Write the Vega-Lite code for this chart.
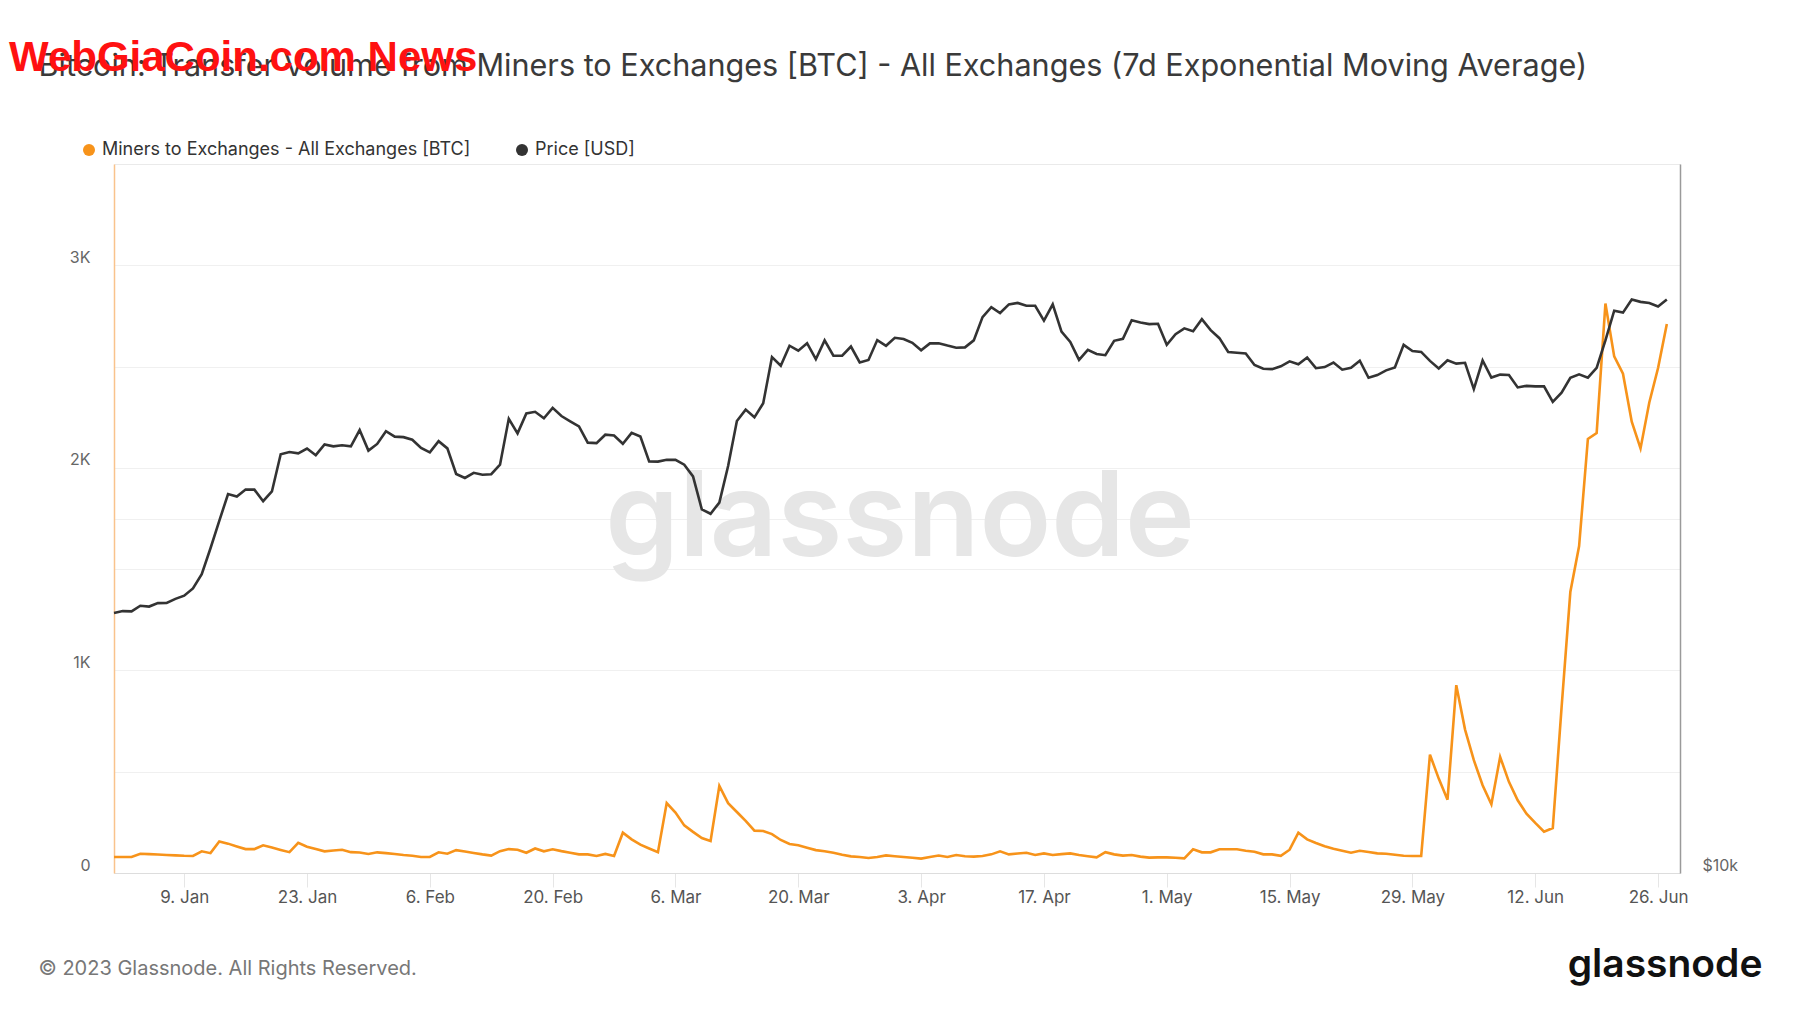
{
  "$schema": "https://vega.github.io/schema/vega-lite/v6.json",
  "width": 1566,
  "height": 709,
  "autosize": {"type": "none"},
  "padding": {"left": 114, "top": 164, "right": 120, "bottom": 140},
  "background": "white",
  "title": {
    "text": "WebGiaCoin.com News",
    "anchor": "start",
    "frame": "group",
    "dx": -105,
    "dy": 72,
    "offset": 10,
    "font": "Liberation Sans",
    "fontSize": 42,
    "fontWeight": "bold",
    "color": "#ff1111",
    "baseline": "alphabetic"
  },
  "config": {
    "font": "Inter",
    "view": {"stroke": "#eaeaea", "strokeWidth": 1}
  },
  "data": {
    "values": [
      {"date": "2023-01-01", "btc": 79, "price": 16625},
      {"date": "2023-01-02", "btc": 79, "price": 16688},
      {"date": "2023-01-03", "btc": 79, "price": 16680},
      {"date": "2023-01-04", "btc": 95, "price": 16863},
      {"date": "2023-01-05", "btc": 93, "price": 16836},
      {"date": "2023-01-06", "btc": 91, "price": 16951},
      {"date": "2023-01-07", "btc": 89, "price": 16955},
      {"date": "2023-01-08", "btc": 87, "price": 17091},
      {"date": "2023-01-09", "btc": 85, "price": 17197},
      {"date": "2023-01-10", "btc": 84, "price": 17446},
      {"date": "2023-01-11", "btc": 107, "price": 17934},
      {"date": "2023-01-12", "btc": 98, "price": 18869},
      {"date": "2023-01-13", "btc": 156, "price": 19909},
      {"date": "2023-01-14", "btc": 145, "price": 20977},
      {"date": "2023-01-15", "btc": 131, "price": 20880},
      {"date": "2023-01-16", "btc": 118, "price": 21169},
      {"date": "2023-01-17", "btc": 118, "price": 21161},
      {"date": "2023-01-18", "btc": 137, "price": 20688},
      {"date": "2023-01-19", "btc": 126, "price": 21086},
      {"date": "2023-01-20", "btc": 114, "price": 22676},
      {"date": "2023-01-21", "btc": 103, "price": 22777},
      {"date": "2023-01-22", "btc": 149, "price": 22720},
      {"date": "2023-01-23", "btc": 130, "price": 22934},
      {"date": "2023-01-24", "btc": 118, "price": 22636},
      {"date": "2023-01-25", "btc": 107, "price": 23117},
      {"date": "2023-01-26", "btc": 111, "price": 23032},
      {"date": "2023-01-27", "btc": 115, "price": 23078},
      {"date": "2023-01-28", "btc": 103, "price": 23031},
      {"date": "2023-01-29", "btc": 101, "price": 23774},
      {"date": "2023-01-30", "btc": 94, "price": 22840},
      {"date": "2023-01-31", "btc": 102, "price": 23139},
      {"date": "2023-02-01", "btc": 98, "price": 23723},
      {"date": "2023-02-02", "btc": 94, "price": 23471},
      {"date": "2023-02-03", "btc": 89, "price": 23449},
      {"date": "2023-02-04", "btc": 85, "price": 23331},
      {"date": "2023-02-05", "btc": 79, "price": 22955},
      {"date": "2023-02-06", "btc": 79, "price": 22760},
      {"date": "2023-02-07", "btc": 102, "price": 23264},
      {"date": "2023-02-08", "btc": 95, "price": 22939},
      {"date": "2023-02-09", "btc": 113, "price": 21819},
      {"date": "2023-02-10", "btc": 106, "price": 21651},
      {"date": "2023-02-11", "btc": 99, "price": 21870},
      {"date": "2023-02-12", "btc": 92, "price": 21788},
      {"date": "2023-02-13", "btc": 86, "price": 21808},
      {"date": "2023-02-14", "btc": 108, "price": 22220},
      {"date": "2023-02-15", "btc": 118, "price": 24307},
      {"date": "2023-02-16", "btc": 115, "price": 23623},
      {"date": "2023-02-17", "btc": 100, "price": 24565},
      {"date": "2023-02-18", "btc": 121, "price": 24641},
      {"date": "2023-02-19", "btc": 107, "price": 24327},
      {"date": "2023-02-20", "btc": 117, "price": 24829},
      {"date": "2023-02-21", "btc": 108, "price": 24436},
      {"date": "2023-02-22", "btc": 100, "price": 24188},
      {"date": "2023-02-23", "btc": 92, "price": 23947},
      {"date": "2023-02-24", "btc": 92, "price": 23198},
      {"date": "2023-02-25", "btc": 84, "price": 23175},
      {"date": "2023-02-26", "btc": 94, "price": 23561},
      {"date": "2023-02-27", "btc": 84, "price": 23522},
      {"date": "2023-02-28", "btc": 199, "price": 23147},
      {"date": "2023-03-01", "btc": 166, "price": 23646},
      {"date": "2023-03-02", "btc": 140, "price": 23475},
      {"date": "2023-03-03", "btc": 121, "price": 22362},
      {"date": "2023-03-04", "btc": 103, "price": 22353},
      {"date": "2023-03-05", "btc": 345, "price": 22435},
      {"date": "2023-03-06", "btc": 298, "price": 22429},
      {"date": "2023-03-07", "btc": 235, "price": 22219},
      {"date": "2023-03-08", "btc": 203, "price": 21718},
      {"date": "2023-03-09", "btc": 173, "price": 20363},
      {"date": "2023-03-10", "btc": 158, "price": 20187},
      {"date": "2023-03-11", "btc": 430, "price": 20633},
      {"date": "2023-03-12", "btc": 345, "price": 22163},
      {"date": "2023-03-13", "btc": 301, "price": 24197},
      {"date": "2023-03-14", "btc": 257, "price": 24746},
      {"date": "2023-03-15", "btc": 209, "price": 24375},
      {"date": "2023-03-16", "btc": 207, "price": 25052},
      {"date": "2023-03-17", "btc": 192, "price": 27423},
      {"date": "2023-03-18", "btc": 163, "price": 26965},
      {"date": "2023-03-19", "btc": 143, "price": 28038},
      {"date": "2023-03-20", "btc": 137, "price": 27768},
      {"date": "2023-03-21", "btc": 125, "price": 28175},
      {"date": "2023-03-22", "btc": 113, "price": 27307},
      {"date": "2023-03-23", "btc": 107, "price": 28333},
      {"date": "2023-03-24", "btc": 100, "price": 27493},
      {"date": "2023-03-25", "btc": 90, "price": 27494},
      {"date": "2023-03-26", "btc": 82, "price": 27994},
      {"date": "2023-03-27", "btc": 79, "price": 27139},
      {"date": "2023-03-28", "btc": 74, "price": 27268},
      {"date": "2023-03-29", "btc": 79, "price": 28348},
      {"date": "2023-03-30", "btc": 87, "price": 28033},
      {"date": "2023-03-31", "btc": 83, "price": 28478},
      {"date": "2023-04-01", "btc": 79, "price": 28411},
      {"date": "2023-04-02", "btc": 75, "price": 28199},
      {"date": "2023-04-03", "btc": 71, "price": 27790},
      {"date": "2023-04-04", "btc": 79, "price": 28168},
      {"date": "2023-04-05", "btc": 86, "price": 28177},
      {"date": "2023-04-06", "btc": 79, "price": 28044},
      {"date": "2023-04-07", "btc": 89, "price": 27925},
      {"date": "2023-04-08", "btc": 83, "price": 27948},
      {"date": "2023-04-09", "btc": 81, "price": 28333},
      {"date": "2023-04-10", "btc": 84, "price": 29653},
      {"date": "2023-04-11", "btc": 92, "price": 30235},
      {"date": "2023-04-12", "btc": 107, "price": 29892},
      {"date": "2023-04-13", "btc": 92, "price": 30400},
      {"date": "2023-04-14", "btc": 96, "price": 30485},
      {"date": "2023-04-15", "btc": 100, "price": 30318},
      {"date": "2023-04-16", "btc": 89, "price": 30315},
      {"date": "2023-04-17", "btc": 97, "price": 29446},
      {"date": "2023-04-18", "btc": 89, "price": 30397},
      {"date": "2023-04-19", "btc": 93, "price": 28823},
      {"date": "2023-04-20", "btc": 97, "price": 28245},
      {"date": "2023-04-21", "btc": 89, "price": 27276},
      {"date": "2023-04-22", "btc": 83, "price": 27817},
      {"date": "2023-04-23", "btc": 77, "price": 27591},
      {"date": "2023-04-24", "btc": 103, "price": 27525},
      {"date": "2023-04-25", "btc": 92, "price": 28307},
      {"date": "2023-04-26", "btc": 86, "price": 28422},
      {"date": "2023-04-27", "btc": 89, "price": 29473},
      {"date": "2023-04-28", "btc": 81, "price": 29340},
      {"date": "2023-04-29", "btc": 76, "price": 29248},
      {"date": "2023-04-30", "btc": 77, "price": 29268},
      {"date": "2023-05-01", "btc": 77, "price": 28091},
      {"date": "2023-05-02", "btc": 75, "price": 28680},
      {"date": "2023-05-03", "btc": 72, "price": 29006},
      {"date": "2023-05-04", "btc": 117, "price": 28847},
      {"date": "2023-05-05", "btc": 102, "price": 29534},
      {"date": "2023-05-06", "btc": 102, "price": 28904},
      {"date": "2023-05-07", "btc": 117, "price": 28455},
      {"date": "2023-05-08", "btc": 117, "price": 27695},
      {"date": "2023-05-09", "btc": 117, "price": 27654},
      {"date": "2023-05-10", "btc": 110, "price": 27621},
      {"date": "2023-05-11", "btc": 105, "price": 27000},
      {"date": "2023-05-12", "btc": 92, "price": 26804},
      {"date": "2023-05-13", "btc": 92, "price": 26784},
      {"date": "2023-05-14", "btc": 85, "price": 26931},
      {"date": "2023-05-15", "btc": 115, "price": 27192},
      {"date": "2023-05-16", "btc": 199, "price": 27036},
      {"date": "2023-05-17", "btc": 166, "price": 27398},
      {"date": "2023-05-18", "btc": 148, "price": 26833},
      {"date": "2023-05-19", "btc": 132, "price": 26890},
      {"date": "2023-05-20", "btc": 120, "price": 27129},
      {"date": "2023-05-21", "btc": 110, "price": 26753},
      {"date": "2023-05-22", "btc": 100, "price": 26851},
      {"date": "2023-05-23", "btc": 110, "price": 27225},
      {"date": "2023-05-24", "btc": 104, "price": 26334},
      {"date": "2023-05-25", "btc": 97, "price": 26476},
      {"date": "2023-05-26", "btc": 95, "price": 26719},
      {"date": "2023-05-27", "btc": 90, "price": 26868},
      {"date": "2023-05-28", "btc": 85, "price": 28085},
      {"date": "2023-05-29", "btc": 84, "price": 27745},
      {"date": "2023-05-30", "btc": 84, "price": 27702},
      {"date": "2023-05-31", "btc": 584, "price": 27219},
      {"date": "2023-06-01", "btc": 466, "price": 26819},
      {"date": "2023-06-02", "btc": 362, "price": 27249},
      {"date": "2023-06-03", "btc": 927, "price": 27075},
      {"date": "2023-06-04", "btc": 708, "price": 27119},
      {"date": "2023-06-05", "btc": 557, "price": 25760},
      {"date": "2023-06-06", "btc": 433, "price": 27238},
      {"date": "2023-06-07", "btc": 339, "price": 26346},
      {"date": "2023-06-08", "btc": 573, "price": 26498},
      {"date": "2023-06-09", "btc": 450, "price": 26478},
      {"date": "2023-06-10", "btc": 359, "price": 25842},
      {"date": "2023-06-11", "btc": 293, "price": 25922},
      {"date": "2023-06-12", "btc": 247, "price": 25896},
      {"date": "2023-06-13", "btc": 204, "price": 25902},
      {"date": "2023-06-14", "btc": 222, "price": 25119},
      {"date": "2023-06-15", "btc": 816, "price": 25576},
      {"date": "2023-06-16", "btc": 1387, "price": 26328},
      {"date": "2023-06-17", "btc": 1614, "price": 26510},
      {"date": "2023-06-18", "btc": 2143, "price": 26340},
      {"date": "2023-06-19", "btc": 2172, "price": 26851},
      {"date": "2023-06-20", "btc": 2811, "price": 28327},
      {"date": "2023-06-21", "btc": 2550, "price": 30027},
      {"date": "2023-06-22", "btc": 2465, "price": 29912},
      {"date": "2023-06-23", "btc": 2228, "price": 30695},
      {"date": "2023-06-24", "btc": 2096, "price": 30549},
      {"date": "2023-06-25", "btc": 2323, "price": 30480},
      {"date": "2023-06-26", "btc": 2493, "price": 30271},
      {"date": "2023-06-27", "btc": 2710, "price": 30689}
    ]
  },
  "layer": [
    {
      "data": {"values": [{"wm": "glassnode"}]},
      "mark": {"type": "text", "font": "Inter", "fontSize": 118, "fontWeight": 600, "color": "#e6e6e6", "align": "center", "baseline": "alphabetic"},
      "encoding": {
        "x": {"datum": {"year": 2023, "month": 3, "date": 31, "hours": 14, "utc": true}, "type": "temporal"},
        "y": {"datum": 1565, "type": "quantitative", "scale": {"domain": [0, 3500], "nice": false}, "axis": null},
        "text": {"field": "wm"}
      }
    },
    {
      "mark": {"type": "line", "strokeWidth": 2.6, "color": "#f7931a"},
      "encoding": {
        "x": {
          "field": "date",
          "type": "temporal",
          "scale": {"type": "utc", "domain": [{"year": 2023, "month": 1, "date": 1, "utc": true}, {"year": 2023, "month": 6, "date": 28, "hours": 12, "utc": true}]},
          "axis": {
            "values": [
              {"year": 2023, "month": 1, "date": 9, "utc": true},
              {"year": 2023, "month": 1, "date": 23, "utc": true},
              {"year": 2023, "month": 2, "date": 6, "utc": true},
              {"year": 2023, "month": 2, "date": 20, "utc": true},
              {"year": 2023, "month": 3, "date": 6, "utc": true},
              {"year": 2023, "month": 3, "date": 20, "utc": true},
              {"year": 2023, "month": 4, "date": 3, "utc": true},
              {"year": 2023, "month": 4, "date": 17, "utc": true},
              {"year": 2023, "month": 5, "date": 1, "utc": true},
              {"year": 2023, "month": 5, "date": 15, "utc": true},
              {"year": 2023, "month": 5, "date": 29, "utc": true},
              {"year": 2023, "month": 6, "date": 12, "utc": true},
              {"year": 2023, "month": 6, "date": 26, "utc": true}
            ],
            "format": "%-d. %b",
            "grid": false,
            "ticks": true,
            "tickSize": 14,
            "tickColor": "#e6e6e6",
            "domainColor": "#dddddd",
            "labelPadding": 2,
            "labelFont": "Inter",
            "labelFontSize": 17,
            "labelColor": "#555555",
            "labelFlush": false,
            "title": "© 2023 Glassnode. All Rights Reserved.",
            "titleX": -76,
            "titleY": 95,
            "titleAlign": "left",
            "titleBaseline": "middle",
            "titleFont": "Inter",
            "titleFontSize": 20,
            "titleFontWeight": "normal",
            "titleColor": "#777777"
          }
        },
        "y": {
          "field": "btc",
          "type": "quantitative",
          "scale": {"domain": [0, 3500], "nice": false},
          "axis": {
            "orient": "left",
            "values": [0, 500, 1000, 1500, 2000, 2500, 3000],
            "labelExpr": "datum.value == 0 ? '0' : (datum.value % 1000 == 0 ? (datum.value / 1000) + 'K' : '')",
            "ticks": false,
            "domainColor": "#f9c38c",
            "domainWidth": 1.5,
            "grid": true,
            "gridColor": "#f0f0f0",
            "labelPadding": 24,
            "labelFont": "Inter",
            "labelFontSize": 16,
            "labelColor": "#666666",
            "labelBaseline": "alphabetic",
            "labelOffset": -3,
            "title": "Bitcoin: Transfer Volume from Miners to Exchanges [BTC] - All Exchanges (7d Exponential Moving Average)",
            "titleAngle": 0,
            "titleX": -76,
            "titleY": -89,
            "titleAlign": "left",
            "titleBaseline": "alphabetic",
            "titleFont": "Inter",
            "titleFontSize": 30.6,
            "titleFontWeight": "normal",
            "titleColor": "#3a3a3a",
            "titleLimit": 0
          }
        },
        "color": {
          "datum": "Miners to Exchanges - All Exchanges [BTC]",
          "type": "nominal",
          "scale": {"domain": ["Miners to Exchanges - All Exchanges [BTC]", "Price [USD]"], "range": ["#f7931a", "#333333"]},
          "legend": {
            "orient": "none",
            "legendX": -34,
            "legendY": -23,
            "direction": "horizontal",
            "columns": 2,
            "title": null,
            "symbolType": "circle",
            "symbolSize": 144,
            "symbolStrokeWidth": 0,
            "labelFont": "Inter",
            "labelFontSize": 18,
            "labelColor": "#333333",
            "labelLimit": 0,
            "labelOffset": 4,
            "columnPadding": 42,
            "encode": {"symbols": {"update": {"fill": {"scale": "color", "field": "value"}, "fillOpacity": {"value": 1}}}}
          }
        }
      }
    },
    {
      "mark": {"type": "line", "strokeWidth": 2.6, "color": "#333333"},
      "encoding": {
        "x": {"field": "date", "type": "temporal"},
        "y": {
          "field": "price",
          "type": "quantitative",
          "scale": {"type": "log", "domain": [10000, 40000], "nice": false},
          "axis": {
            "orient": "right",
            "values": [10000, 20000],
            "labelExpr": "datum.value == 10000 ? '$10k' : ''",
            "ticks": false,
            "domainColor": "#9a9a9a",
            "domainWidth": 1.5,
            "grid": true,
            "gridColor": "#f0f0f0",
            "labelPadding": 22,
            "labelFont": "Inter",
            "labelFontSize": 16,
            "labelColor": "#666666",
            "labelBaseline": "alphabetic",
            "labelOffset": -3,
            "title": "glassnode",
            "titleAngle": 0,
            "titleX": 82,
            "titleY": 812,
            "titleAlign": "right",
            "titleBaseline": "alphabetic",
            "titleFont": "Inter",
            "titleFontSize": 39,
            "titleFontWeight": 600,
            "titleColor": "#111111"
          }
        },
        "color": {"datum": "Price [USD]", "type": "nominal"}
      }
    }
  ],
  "resolve": {"scale": {"y": "independent"}}
}
